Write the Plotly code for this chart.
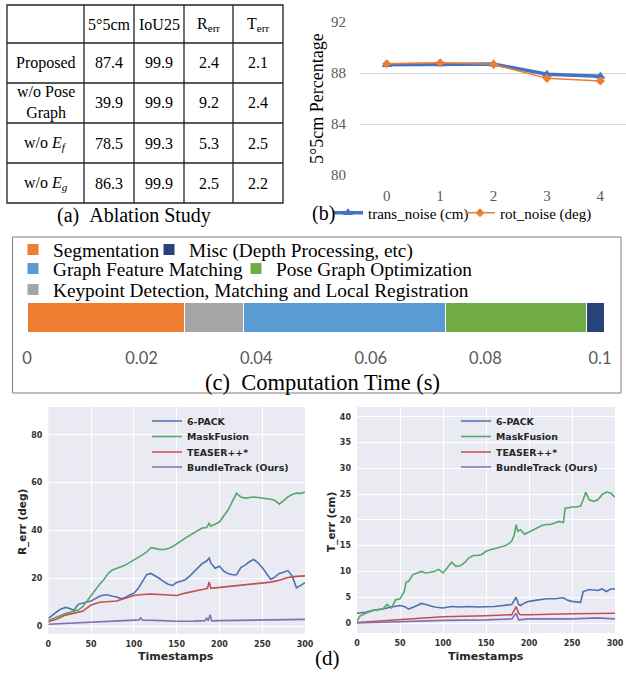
import plotly.graph_objects as go

W, H = 626, 677
def px(x): return x / W
def py(y): return 1 - y / H

# ---------------- (a) ablation table ----------------
tbl_header = ["", "5°5cm", "IoU25", "R<sub>err</sub>", "T<sub>err</sub>"]
tbl_rows = ["Proposed", "w/o Pose<br>Graph", "w/o <i>E<sub>f</sub></i>", "w/o <i>E<sub>g</sub></i>"]
tbl_5deg5cm = [87.4, 39.9, 78.5, 86.3]
tbl_iou25 = [99.9, 99.9, 99.3, 99.9]
tbl_rerr = [2.4, 9.2, 5.3, 2.5]
tbl_terr = [2.1, 2.4, 2.5, 2.2]

# ---------------- (b) noise robustness ----------------
noise_levels = [0, 1, 2, 3, 4]
trans_noise = [88.65, 88.7, 88.7, 87.9, 87.75]
rot_noise = [88.72, 88.8, 88.68, 87.58, 87.38]

# ---------------- (c) computation time ----------------
time_labels = ["Segmentation", "Keypoint Detection, Matching and Local Registration",
               "Graph Feature Matching", "Pose Graph Optimization", "Misc (Depth Processing, etc)"]
time_values = [0.0274, 0.0103, 0.0353, 0.0247, 0.0030]
time_colors = ["#ED7D31", "#A5A5A5", "#5B9BD5", "#70AD47", "#264478"]
time_ticks = [0, 0.02, 0.04, 0.06, 0.08, 0.1]
time_ticktext = ["0", "0.02", "0.04", "0.06", "0.08", "0.1"]

# ---------------- (d) R_err over time ----------------
r_6pack_t = [0, 5, 10, 15, 20, 25, 30, 35, 40, 45,
             50, 55, 60, 65, 70, 75, 80, 85, 90, 95,
             100, 105, 110, 115, 120, 125, 130, 135, 140, 145,
             150, 155, 160, 165, 170, 175, 180, 185, 188, 190,
             195, 200, 205, 210, 215, 220, 225, 230, 235, 240,
             245, 250, 255, 260, 265, 270, 275, 280, 285, 290,
             295, 300]
r_6pack = [3.2, 4.8, 6.0, 7.2, 7.8, 7.4, 6.6, 9.1, 9.6, 10.0,
           10.5, 11.5, 12.5, 13.0, 13.0, 12.5, 12.2, 11.4, 12.0, 13.0,
           13.7, 15.7, 18.8, 21.5, 22.0, 21.0, 19.9, 18.6, 17.5, 17.0,
           18.2, 18.8, 19.4, 20.8, 22.7, 24.5, 26.2, 27.2, 28.4, 26.3,
           24.2, 25.0, 23.0, 22.0, 21.5, 21.5, 24.5, 25.5, 26.9, 27.9,
           26.5, 24.5, 22.0, 19.5, 20.6, 22.0, 22.5, 23.2, 21.0, 16.0,
           17.0, 18.2]
r_mask_t = [0, 5, 10, 15, 20, 25, 30, 35, 40, 45,
            50, 55, 60, 65, 70, 75, 80, 85, 90, 95,
            100, 105, 110, 115, 120, 125, 130, 135, 140, 145,
            150, 155, 160, 165, 170, 175, 180, 185, 188, 190,
            195, 200, 205, 210, 215, 220, 225, 230, 235, 240,
            245, 250, 255, 260, 265, 270, 275, 280, 285, 290,
            295, 300]
r_mask = [2.4, 3.0, 3.8, 4.5, 5.3, 5.8, 6.2, 6.7, 8.0, 10.5,
          13.0, 15.0, 17.5, 19.5, 22.0, 23.5, 24.0, 24.8, 25.5, 26.5,
          27.6, 28.8, 29.8, 31.0, 32.8, 32.5, 32.0, 32.0, 32.4, 33.2,
          34.2, 35.5, 36.8, 38.0, 38.9, 40.0, 41.0, 41.2, 43.0, 41.8,
          42.5, 43.5, 46.0, 48.5, 52.0, 55.5, 54.0, 53.5, 53.8, 54.0,
          53.8, 53.6, 53.2, 53.0, 52.5, 51.0, 52.5, 54.0, 55.0, 55.6,
          55.5, 56.0]
r_teaser_t = [0, 10, 20, 30, 40, 45, 50, 60, 70, 80,
              90, 100, 110, 120, 130, 140, 150, 160, 170, 180,
              186, 188, 190, 200, 210, 220, 230, 240, 250, 260,
              270, 280, 290, 300]
r_teaser = [1.8, 3.0, 4.6, 5.3, 6.2, 7.5, 8.8, 10.0, 10.2, 10.5,
            11.6, 12.8, 13.2, 13.4, 13.2, 13.0, 12.8, 13.8, 14.7, 15.3,
            15.8, 18.5, 15.8, 16.2, 16.5, 16.8, 17.3, 17.8, 18.0, 18.4,
            19.2, 20.3, 20.8, 21.0]
r_bundle_t = [0, 25, 50, 75, 100, 106, 108, 110, 125, 150,
              170, 183, 185, 187, 189, 191, 200, 225, 250, 275,
              300]
r_bundle = [0.8, 1.2, 1.7, 2.0, 2.4, 2.6, 3.4, 2.5, 2.4, 2.0,
            2.1, 2.3, 3.3, 2.2, 4.8, 2.2, 2.3, 2.4, 2.4, 2.6,
            2.8]

# ---------------- (d) T_err over time ----------------
t_6pack_t = [0, 10, 20, 30, 40, 50, 55, 60, 70, 75,
             80, 90, 100, 110, 120, 130, 140, 150, 160, 170,
             180, 185, 188, 190, 195, 200, 210, 220, 230, 240,
             245, 250, 260, 263, 270, 280, 285, 290, 295, 300]
t_6pack = [1.9, 2.1, 2.5, 2.7, 3.1, 3.4, 3.2, 2.7, 3.4, 3.8,
           3.6, 3.1, 2.9, 3.2, 3.1, 3.2, 3.1, 3.1, 3.2, 3.4,
           3.6, 5.0, 3.6, 3.4, 3.9, 4.2, 4.5, 4.7, 4.7, 4.9,
           4.4, 4.2, 4.0, 6.1, 6.5, 6.3, 6.6, 6.1, 6.6, 6.6]
t_mask_t = [0, 3, 10, 20, 30, 35, 40, 45, 50, 55,
            57, 60, 65, 70, 75, 80, 85, 90, 95, 100,
            105, 110, 115, 120, 125, 130, 135, 140, 145, 150,
            155, 160, 165, 170, 175, 180, 183, 185, 187, 190,
            195, 200, 205, 210, 215, 220, 225, 230, 235, 240,
            242, 245, 250, 255, 260, 263, 266, 270, 275, 280,
            285, 290, 295, 300]
t_mask = [0.3, 1.3, 1.9, 2.5, 2.7, 3.6, 2.9, 4.5, 4.7, 6.1,
          7.9, 8.1, 9.4, 9.7, 10.0, 9.7, 9.9, 10.0, 10.4, 9.7,
          10.7, 11.8, 11.0, 11.1, 11.7, 12.6, 13.1, 13.1, 13.3, 13.9,
          14.2, 14.4, 14.6, 14.9, 15.2, 15.9, 17.2, 19.1, 17.8, 18.1,
          17.2, 17.6, 18.1, 18.4, 18.9, 19.1, 19.1, 19.4, 19.7, 19.5,
          22.3, 22.3, 22.5, 22.5, 22.7, 23.9, 25.4, 23.9, 23.6, 23.9,
          24.9, 25.4, 25.2, 24.4]
t_teaser_t = [0, 10, 20, 30, 50, 70, 100, 150, 180, 185,
              188, 190, 200, 250, 280, 300]
t_teaser = [0.1, 0.2, 0.3, 0.4, 0.6, 0.9, 1.2, 1.4, 1.6, 3.2,
            1.9, 1.6, 1.6, 1.8, 1.9, 1.9]
t_bundle_t = [0, 50, 100, 150, 180, 185, 188, 200, 250, 280,
              300]
t_bundle = [0.0, 0.3, 0.5, 0.6, 0.8, 1.9, 0.6, 0.8, 0.8, 1.0,
            0.8]

method_names = ["6-PACK", "MaskFusion", "TEASER++*", "BundleTrack (Ours)"]
method_colors = ["#4C72B0", "#55A868", "#C44E52", "#8172B2"]

SERIF = "Liberation Serif"
SANS = "DejaVu Sans"

# ---------------- layout constants ----------------
TBL_COL_EDGES = [7, 84, 134, 184, 233, 283]
TBL_ROW_EDGES = [5, 43, 83, 123, 163, 203]

fig = go.Figure()
layout_legends = {}
shapes = []
annotations = []

def legend_box(name, x, y, font):
    layout_legends[name] = dict(x=px(x), y=py(y), xanchor="left", yanchor="middle",
                                orientation="h", font=font, bgcolor="rgba(0,0,0,0)",
                                borderwidth=0)

# ---------- (a) table as a grid ----------
x0, x1 = TBL_COL_EDGES[0], TBL_COL_EDGES[-1]
y0, y1 = TBL_ROW_EDGES[0], TBL_ROW_EDGES[-1]
tline = dict(color="#222222", width=1.3)
shapes.append(dict(type="rect", xref="paper", yref="paper", x0=px(x0), x1=px(x1),
                   y0=py(y1), y1=py(y0), line=tline, fillcolor="rgba(0,0,0,0)"))
for cx in TBL_COL_EDGES[1:-1]:
    shapes.append(dict(type="line", xref="paper", yref="paper", x0=px(cx), x1=px(cx),
                       y0=py(y1), y1=py(y0), line=tline))
for ry in TBL_ROW_EDGES[1:-1]:
    shapes.append(dict(type="line", xref="paper", yref="paper", x0=px(x0), x1=px(x1),
                       y0=py(ry), y1=py(ry), line=tline))
tbl_columns = [tbl_rows,
               [f"{v:.1f}" for v in tbl_5deg5cm],
               [f"{v:.1f}" for v in tbl_iou25],
               [f"{v:.1f}" for v in tbl_rerr],
               [f"{v:.1f}" for v in tbl_terr]]
tfont = dict(family=SERIF, size=16, color="black")
for ci, head in enumerate(tbl_header):
    cxm = (TBL_COL_EDGES[ci] + TBL_COL_EDGES[ci + 1]) / 2
    rym = (TBL_ROW_EDGES[0] + TBL_ROW_EDGES[1]) / 2
    if head:
        annotations.append(dict(text=head, x=px(cxm), y=py(rym), xref="paper", yref="paper",
                                showarrow=False, xanchor="center", yanchor="middle", font=tfont))
    for ri, val in enumerate(tbl_columns[ci]):
        rym = (TBL_ROW_EDGES[ri + 1] + TBL_ROW_EDGES[ri + 2]) / 2
        annotations.append(dict(text=val, x=px(cxm), y=py(rym), xref="paper", yref="paper",
                                showarrow=False, xanchor="center", yanchor="middle", font=tfont))

# ---------- (b) lines ----------
fig.add_trace(go.Scatter(x=noise_levels, y=trans_noise, mode="lines+markers",
                         name="trans_noise (cm)", line=dict(color="#4472C4", width=3.5),
                         marker=dict(symbol="triangle-up", size=9, color="#4472C4"),
                         xaxis="x", yaxis="y", legend="legend"))
fig.add_trace(go.Scatter(x=noise_levels, y=rot_noise, mode="lines+markers",
                         name="rot_noise (deg)", line=dict(color="#ED7D31", width=1.5),
                         marker=dict(symbol="diamond", size=7, color="#ED7D31"),
                         xaxis="x", yaxis="y", legend="legend15"))
leg_b = dict(family=SERIF, size=15, color="black")
legend_box("legend", 328, 213, leg_b)
legend_box("legend15", 460, 213, leg_b)

# ---------- (c) stacked bar ----------
leg_c = dict(family=SERIF, size=19.3, color="black")
c_leg_pos = {  # legend anchor (x, y) per component
    "Segmentation": (13, 250),
    "Misc (Depth Processing, etc)": (149, 250),
    "Graph Feature Matching": (13, 269),
    "Pose Graph Optimization": (236, 269),
    "Keypoint Detection, Matching and Local Registration": (13, 290),
}
for i, (lab, val, col) in enumerate(zip(time_labels, time_values, time_colors)):
    lname = f"legend{10 + i}"
    fig.add_trace(go.Bar(x=[val], y=[0], orientation="h", name=lab, width=1,
                         marker=dict(color=col, line=dict(color="white", width=1)),
                         xaxis="x2", yaxis="y2", legend=lname))
    lx, ly = c_leg_pos[lab]
    legend_box(lname, lx, ly, leg_c)

# ---------- (d) curves ----------
leg_d = dict(family=SANS, size=9.4, color="#262626", weight="bold")
r_series = [(r_6pack_t, r_6pack), (r_mask_t, r_mask), (r_teaser_t, r_teaser), (r_bundle_t, r_bundle)]
t_series = [(t_6pack_t, t_6pack), (t_mask_t, t_mask), (t_teaser_t, t_teaser), (t_bundle_t, t_bundle)]
d_leg_rows = [421, 436.5, 452, 467]
for i, (name, col, (tx, ty)) in enumerate(zip(method_names, method_colors, r_series)):
    lname = f"legend{2 + i}"
    fig.add_trace(go.Scatter(x=tx, y=ty, mode="lines", name=name,
                             line=dict(color=col, width=1.6),
                             xaxis="x3", yaxis="y3", legend=lname))
    legend_box(lname, 147, d_leg_rows[i], leg_d)
for i, (name, col, (tx, ty)) in enumerate(zip(method_names, method_colors, t_series)):
    lname = f"legend{6 + i}"
    fig.add_trace(go.Scatter(x=tx, y=ty, mode="lines", name=name,
                             line=dict(color=col, width=1.6),
                             xaxis="x4", yaxis="y4", legend=lname))
    legend_box(lname, 456, d_leg_rows[i], leg_d)

tick_b = dict(family=SERIF, size=15, color="#595959")
tick_d = dict(family=SANS, size=8, color="#333333", weight="bold")

shapes += [
    dict(type="rect", xref="x3 domain", yref="y3 domain", x0=0, x1=1, y0=0, y1=1,
         fillcolor="#EAEAF2", line=dict(width=0), layer="below"),
    dict(type="rect", xref="x4 domain", yref="y4 domain", x0=0, x1=1, y0=0, y1=1,
         fillcolor="#EAEAF2", line=dict(width=0), layer="below"),
    dict(type="rect", xref="paper", yref="paper", x0=px(12.5), x1=px(621), y0=py(393), y1=py(237),
         line=dict(color="#808080", width=1), fillcolor="rgba(0,0,0,0)", layer="below"),
]

def note(text, x, y, font, angle=0):
    annotations.append(dict(text=text, x=px(x), y=py(y), xref="paper", yref="paper",
                            showarrow=False, xanchor="center", yanchor="middle",
                            textangle=angle, font=font))

note("(a)\u00a0\u00a0Ablation Study", 134, 215, dict(family=SERIF, size=20, color="black"))
note("5°5cm Percentage", 317, 99, dict(family=SERIF, size=18, color="black"), -90)
note("(b)", 324, 213, dict(family=SERIF, size=20, color="black"))
note("(c)\u00a0\u00a0Computation Time (s)", 322, 382, dict(family=SERIF, size=22.5, color="black"))
note("<b>R_err (deg)</b>", 22, 522, dict(family=SANS, size=10.5, color="#262626"), -90)
note("<b>T_err (cm)</b>", 331, 522, dict(family=SANS, size=10.5, color="#262626"), -90)
note("<b>Timestamps</b>", 176, 656, dict(family=SANS, size=11, color="#262626"))
note("<b>Timestamps</b>", 486, 656, dict(family=SANS, size=11, color="#262626"))
note("(d)", 327, 658, dict(family=SERIF, size=21, color="black"))

fig.update_layout(
    width=W, height=H, margin=dict(l=0, r=0, t=0, b=0, autoexpand=False),
    paper_bgcolor="white", plot_bgcolor="white", barmode="stack", showlegend=True,
    # (b)
    xaxis=dict(domain=[px(360), 1], range=[-0.5, 4.48], tickvals=noise_levels,
               showgrid=False, zeroline=False, showline=False, tickfont=tick_b,
               ticks="", ticklabelstandoff=10, anchor="y"),
    yaxis=dict(domain=[py(175), py(22)], range=[80, 92], tickvals=[80, 84, 88, 92],
               showgrid=True, gridcolor="#D9D9D9", gridwidth=1, zeroline=False,
               showline=False, tickfont=tick_b, ticks="", ticklabelstandoff=13, anchor="x"),
    # (c)
    xaxis2=dict(domain=[px(27), px(604)], range=[0, 0.1007], tickvals=time_ticks,
                ticktext=time_ticktext, showgrid=False, zeroline=False, showline=False,
                tickfont=dict(family="Lato", size=16.5, color="#595959"), ticks="",
                ticklabelstandoff=14, anchor="y2"),
    yaxis2=dict(domain=[py(332), py(302)], range=[-0.5, 0.5], visible=False, anchor="x2"),
    # (d) left
    xaxis3=dict(domain=[px(48.3), px(305)], range=[0, 300], tickvals=[0, 50, 100, 150, 200, 250, 300],
                showgrid=True, gridcolor="white", gridwidth=1.2, zeroline=False, showline=False,
                tickfont=tick_d, ticks="", ticklabelstandoff=4, anchor="y3"),
    yaxis3=dict(domain=[py(634), py(407)], range=[-3.3, 91.6], tickvals=[0, 20, 40, 60, 80],
                showgrid=True, gridcolor="white", gridwidth=1.2, zeroline=False, showline=False,
                tickfont=tick_d, ticks="", ticklabelstandoff=5, anchor="x3"),
    # (d) right
    xaxis4=dict(domain=[px(357), px(615)], range=[0, 300], tickvals=[0, 50, 100, 150, 200, 250, 300],
                showgrid=True, gridcolor="white", gridwidth=1.2, zeroline=False, showline=False,
                tickfont=tick_d, ticks="", ticklabelstandoff=4, anchor="y4"),
    yaxis4=dict(domain=[py(633), py(407)], range=[-1.94, 41.9], tickvals=[0, 5, 10, 15, 20, 25, 30, 35, 40],
                showgrid=True, gridcolor="white", gridwidth=1.2, zeroline=False, showline=False,
                tickfont=tick_d, ticks="", ticklabelstandoff=5, anchor="x4"),
    shapes=shapes,
    annotations=annotations,
    **layout_legends,
)

fig.write_html("out.html", config={"displayModeBar": False},
               post_script="document.body.style.margin='0px';")
